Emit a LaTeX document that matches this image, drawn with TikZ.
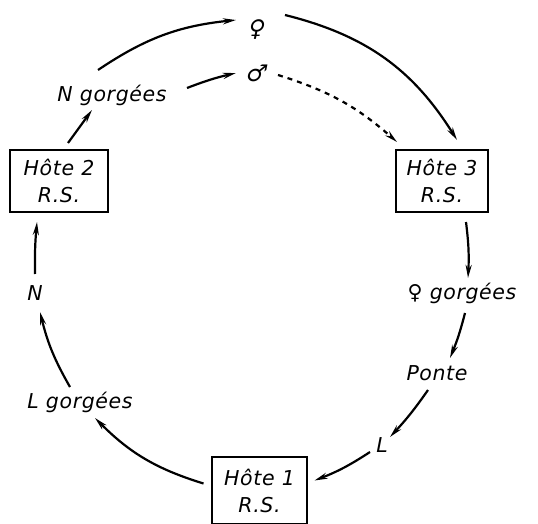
\documentclass[tikz,border=0pt]{standalone}
\usepackage{fontspec}
\setmainfont[LetterSpace=3]{DejaVu Sans}
\newfontfamily\symfont{DejaVu Sans}
\usetikzlibrary{arrows.meta,calc}
\begin{document}
\begin{tikzpicture}[x=1pt,y=-1pt,
  lab/.style={font=\fontsize{20.5}{27}\selectfont\itshape, inner sep=0pt},
  host/.style={lab, draw, line width=1.8pt, align=center, inner sep=2pt},
  sym/.style={font=\fontsize{23}{23}\selectfont\symfont, inner sep=0pt, xslant=0.2, transform shape},
  arr/.style={line width=2.2pt, -{Stealth[length=13pt,width=6pt]}},
]
\useasboundingbox (0,0) rectangle (538,524);

% hosts
\node[host, minimum width=98pt, minimum height=62pt] (h2) at (59,181) {Hôte 2\\R.S.};
\node[host, minimum width=92pt, minimum height=62pt] (h3) at (442,181) {Hôte 3\\R.S.};
\node[host, minimum width=95pt, minimum height=67pt] (h1) at (259.5,490.5) {Hôte 1\\R.S.};

% labels
\node[sym] (fem) at (257,30) {♀};
\node[sym] (male) at (257,73) {♂};
\node[lab] (ng) at (112,95) {N gorgées};
\node[lab] (n) at (35,293) {N};
\node[lab] (fg) at (462,293) {{\symfont\upshape ♀} gorgées};
\node[lab] (ponte) at (437,373) {Ponte};
\node[lab] (lg) at (80,402) {L gorgées};
\node[lab] (l) at (382,445) {L};

% connectors
\draw[arr] ($(h2.center)+(9,-38)$) -- ($(ng.center)+(-20,15)$);
\draw[arr] ($(ng.center)+(-14,-25)$) to[bend left=14] ($(fem.center)+(-21,-10)$);
\draw[arr] ($(ng.center)+(75,-7)$) to[bend left=4] ($(male.center)+(-21,0)$);
\draw[arr, dash pattern=on 5pt off 5pt] ($(male.center)+(21,2)$) to[bend left=12] ($(h3.center)+(-45,-39)$);
\draw[arr] ($(fem.center)+(28,-15)$) to[bend left=22] ($(h3.center)+(15,-41)$);
\draw[arr] ($(h3.center)+(24,41)$) to[bend left=5] ($(fg.center)+(6,-15)$);
\draw[arr] ($(fg.center)+(3,20)$) to[bend left=4] ($(ponte.center)+(13,-15)$);
\draw[arr] ($(ponte.center)+(-9,17)$) to[bend left=4] ($(l.center)+(8,-8)$);
\draw[arr] ($(l.center)+(-12,7)$) to[bend left=6] ($(h1.center)+(55,-10)$);
\draw[arr] ($(h1.center)+(-56,-7)$) to[bend left=14] ($(lg.center)+(15,16)$);
\draw[arr] ($(lg.center)+(-10,-15)$) to[bend left=8] ($(n.center)+(5,19)$);
\draw[arr] ($(n.center)+(0,-19)$) to[bend left=3] ($(h2.center)+(-22,41)$);
\end{tikzpicture}
\end{document}
